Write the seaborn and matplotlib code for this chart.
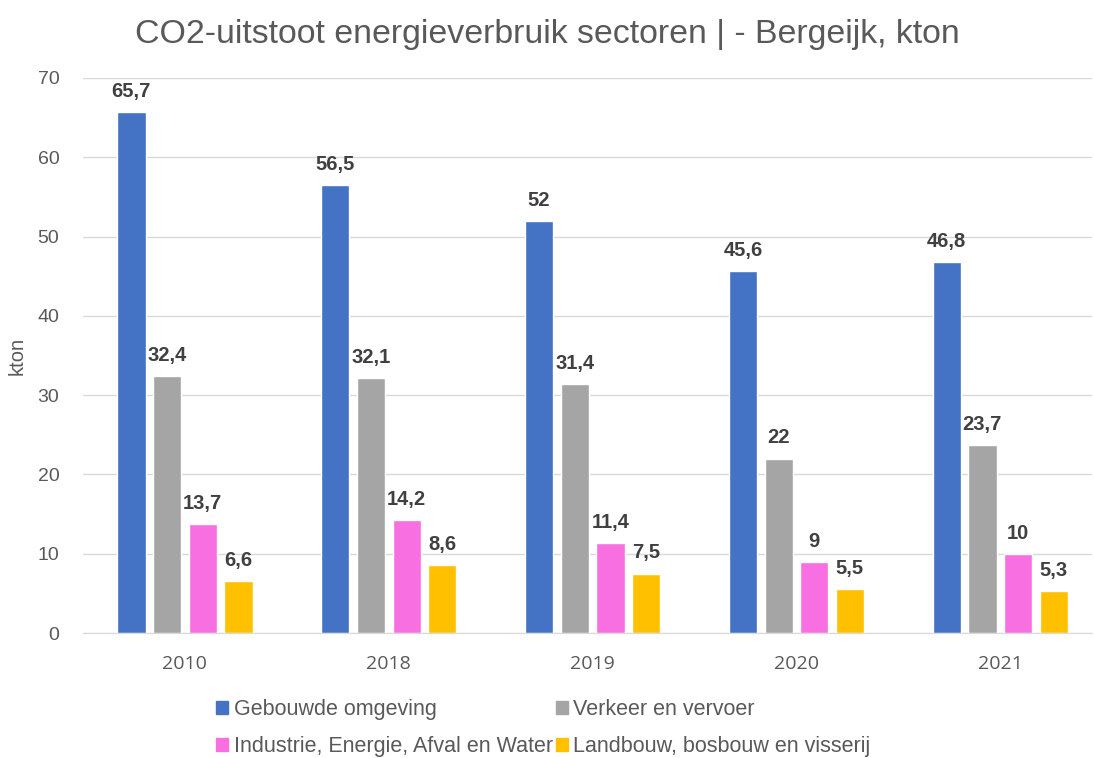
import pandas as pd
import seaborn as sns
import matplotlib.pyplot as plt

years = ["2010", "2018", "2019", "2020", "2021"]
sectors = ["Gebouwde omgeving", "Verkeer en vervoer",
           "Industrie, Energie, Afval en Water", "Landbouw, bosbouw en visserij"]
gebouwd = [65.7, 56.5, 52, 45.6, 46.8]
verkeer = [32.4, 32.1, 31.4, 22, 23.7]
industrie = [13.7, 14.2, 11.4, 9, 10]
landbouw = [6.6, 8.6, 7.5, 5.5, 5.3]
colors = ["#4472C4", "#A5A5A5", "#F76FE0", "#FFC000"]

rows = []
for name, vals in zip(sectors, [gebouwd, verkeer, industrie, landbouw]):
    for y, v in zip(years, vals):
        rows.append({"Jaar": y, "Sector": name, "kton": v})
df = pd.DataFrame(rows)

sns.set_style("white")
plt.rcParams['font.family'] = ['Liberation Sans', 'DejaVu Sans']

fig, ax = plt.subplots(figsize=(10.94, 7.58), dpi=100)
fig.subplots_adjust(left=83/1094, right=1092/1094, top=1-78/758, bottom=1-633/758)

sns.barplot(data=df, x="Jaar", y="kton", hue="Sector", palette=colors,
            saturation=1, width=0.7, gap=0.21, ax=ax, legend=False)

for cont in ax.containers:
    ax.bar_label(cont, fmt=lambda v: f"{v:g}".replace('.', ','), padding=8,
                 fontsize=14.5, fontweight='bold', color='#404040')

ax.set_xlim(-0.5, 4.45)
ax.set_ylim(0, 70)
ax.set_yticks(range(0, 71, 10))
ax.grid(axis='y', color='#D9D9D9', linewidth=1)
ax.set_axisbelow(True)
for s in ['top', 'right', 'left']:
    ax.spines[s].set_visible(False)
ax.spines['bottom'].set_color('#D9D9D9')
ax.tick_params(axis='both', length=0, colors='#595959')
ax.tick_params(axis='y', labelsize=14, pad=17)
ax.tick_params(axis='x', pad=16)
for lbl in ax.get_xticklabels():
    lbl.set_fontfamily(['Open Sans', 'DejaVu Sans'])
    lbl.set_fontsize(14)
ax.set_xlabel("")
ax.set_ylabel("kton", fontsize=14.5, color='#595959', labelpad=8)

fig.suptitle("CO2-uitstoot energieverbruik sectoren | - Bergeijk, kton",
             fontsize=24.4, color='#595959', y=0.975)

handles = [plt.Rectangle((0, 0), 1, 1, color=c) for c in colors]
order = [0, 2, 1, 3]
fig.legend([handles[i] for i in order], [sectors[i] for i in order],
           loc='upper left', bbox_to_anchor=(197/1094, 1-680/758), ncol=2,
           frameon=False, fontsize=15.5, handlelength=0.55, handleheight=0.55,
           handletextpad=0.25, columnspacing=0.15, labelspacing=0.72,
           labelcolor='#595959')

plt.savefig("out.png", dpi=100)
